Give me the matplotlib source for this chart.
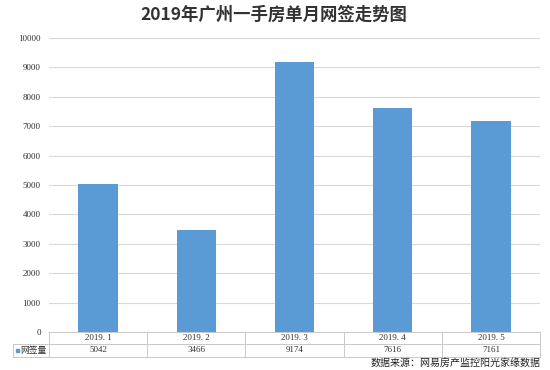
import matplotlib.pyplot as plt

plt.rcParams['font.family'] = ['Noto Sans CJK SC', 'DejaVu Sans']

months = ['2019.1', '2019.2', '2019.3', '2019.4', '2019.5']
sales = [5042, 3466, 9174, 7616, 7161]
series_name = '网签量'
yticks = [0, 1000, 2000, 3000, 4000, 5000, 6000, 7000, 8000, 9000, 10000]

W, H = 550, 370
bar_color = '#5B9BD5'
grid_color = '#D9D9D9'
num_font = 'Liberation Serif'

fig = plt.figure(figsize=(W / 100, H / 100), dpi=100)

# main plot area, in pixel coordinates of the reference
left, right, top, bottom = 49, 540, 38, 332
ax = fig.add_axes([left / W, 1 - bottom / H, (right - left) / W, (bottom - top) / H])
x = list(range(len(months)))
ax.bar(x, sales, width=0.40, color=bar_color, zorder=3)
ax.set_xlim(-0.5, len(months) - 0.5)
ax.set_ylim(0, 10000)
ax.set_yticks(yticks)
ax.set_yticklabels([str(v) for v in yticks], fontsize=6.5, family=num_font, color='#333333')
ax.set_xticks([])
ax.tick_params(axis='y', length=0, pad=6)
ax.grid(axis='y', color=grid_color, linewidth=0.8, zorder=0)
for s in ax.spines.values():
    s.set_visible(False)

# data table under the axis
tx = fig.add_axes([0, 0, 1, 1], facecolor='none')
tx.set_xlim(0, W)
tx.set_ylim(H, 0)
tx.axis('off')
row1, row2, row3 = 332, 343.5, 357
label_left = 13
cw = (right - left) / len(months)
line_kw = dict(color='#C8C8C8', linewidth=0.7)
tx.plot([left, right], [row1, row1], **line_kw)
tx.plot([label_left, right], [row2, row2], **line_kw)
tx.plot([label_left, right], [row3, row3], **line_kw)
tx.plot([label_left, label_left], [row2, row3], **line_kw)
for i in range(len(months) + 1):
    xx = left + i * cw
    tx.plot([xx, xx], [row1, row3], **line_kw)
for i, (m, v) in enumerate(zip(months, sales)):
    cx = left + (i + 0.5) * cw
    tx.text(cx, (row1 + row2) / 2, m.replace('.', '. '), ha='center', va='center',
            fontsize=6.5, family=num_font, color='#333333')
    tx.text(cx, (row2 + row3) / 2, str(v), ha='center', va='center',
            fontsize=6.5, family=num_font, color='#333333')
tx.add_patch(plt.Rectangle((15.5, 348.5), 3, 3, color=bar_color))
tx.text(20, (row2 + row3) / 2, series_name, ha='left', va='center',
        fontsize=6.3, color='#333333')

fig.text(273.5 / W, 1 - 15 / H, '2019年广州一手房单月网签走势图', ha='center', va='center',
         fontsize=12.5, fontweight='bold', color='#333333')
fig.text(541 / W, 1 - 363 / H, '数据来源：网易房产监控阳光家缘数据', ha='right', va='center',
         fontsize=7.2, color='#222222')

fig.savefig('out.png', dpi=100)
